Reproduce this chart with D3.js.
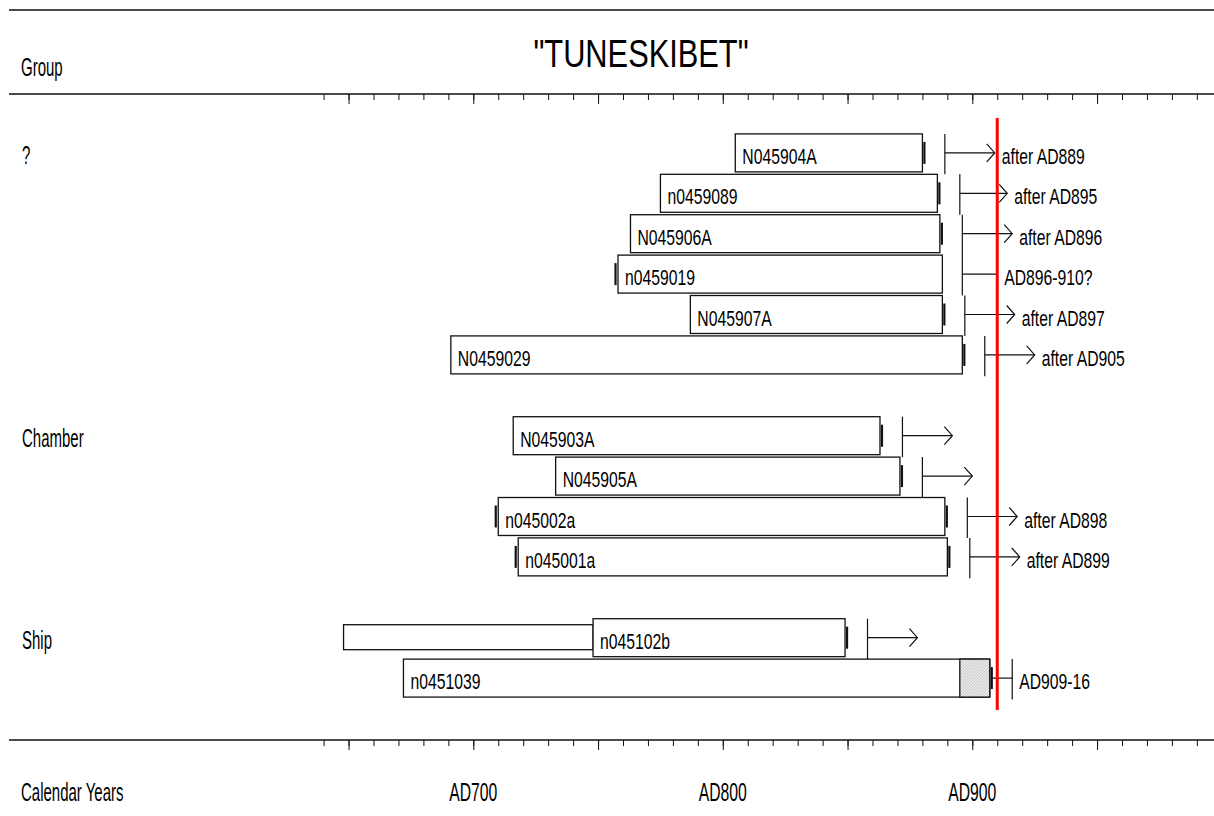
<!DOCTYPE html>
<html>
<head>
<meta charset="utf-8">
<script src="https://cdn.jsdelivr.net/npm/d3@7"></script>
<style>
  html, body { margin: 0; padding: 0; background: #fff; }
  svg { display: block; font-family: "Liberation Sans", Arial, sans-serif; }
</style>
</head>
<body>
<svg width="1214" height="816"></svg>
<script>
// Dendro dates, Tuneskibet
const title = "\"TUNESKIBET\"";
const groups = ["?", "Chamber", "Ship"];

const sampleIds   = ["N045904A", "n0459089", "N045906A", "n0459019", "N045907A", "N0459029",
                     "N045903A", "N045905A", "n045002a", "n045001a",
                     "n045102b", "n0451039"];
const sampleGroup = ["?", "?", "?", "?", "?", "?",
                     "Chamber", "Chamber", "Chamber", "Chamber",
                     "Ship", "Ship"];
const firstRing   = [805, 775, 763, 758, 787, 691, 716, 733, 710, 718, 748, 672];
const lastRing    = [880, 886, 887, 888, 888, 896, 863, 871, 889, 890, 849, 907];
const markStart   = [0, 0, 0, 1, 0, 0, 0, 0, 1, 1, 0, 0];
const markEnd     = [1, 1, 1, 0, 1, 1, 1, 1, 1, 1, 1, 1];
const sapwoodFrom = [null, null, null, null, null, null, null, null, null, null, null, 895];
const floatStart  = [null, null, null, null, null, null, null, null, null, null, 648, null];
const floatEnd    = [null, null, null, null, null, null, null, null, null, null, 748, null];
const fellingYear = [889, 895, 896, 896, 897, 905, 872, 880, 898, 899, 858, 916];
const lineEnd     = [909, 914, 916, 910, 917, 925, 892, 900, 918, 919, 878, 908];
const arrowHead   = [1, 1, 1, 0, 1, 1, 1, 1, 1, 1, 1, 0];
const notes       = ["after AD889", "after AD895", "after AD896", "AD896-910?", "after AD897", "after AD905",
                     "", "", "after AD898", "after AD899", "", "AD909-16"];

const markerYear = 910;
const minorTicks = d3.range(640, 991, 10);
const majorTicks = d3.range(650, 991, 50);
const labelYears = [700, 800, 900];

const svg = d3.select("svg");
const W = 1214;

const x = d3.scaleLinear().domain([700, 900]).range([473.3, 972.3]);

// rows: samples of each group, blank row between groups
const rowKeys = [];
groups.forEach((g, gi) => {
  sampleIds.forEach((s, i) => { if (sampleGroup[i] === g) rowKeys.push(s); });
  if (gi < groups.length - 1) rowKeys.push("gap" + gi);
});
const y = d3.scaleBand().domain(rowKeys).range([132.7, 698.3])
  .paddingInner(0.06).paddingOuter(0.03);
const bw = y.bandwidth();
const step = y.step();
const mid = id => y(id) + bw / 2;

const rows = sampleIds.map((id, i) => ({
  id, group: sampleGroup[i], start: firstRing[i], end: lastRing[i],
  mS: markStart[i], mE: markEnd[i], sap: sapwoodFrom[i],
  fS: floatStart[i], fE: floatEnd[i],
  tpq: fellingYear[i], to: lineEnd[i], head: arrowHead[i], note: notes[i]
}));

// squeezed text like the original narrow font
function label(parent, txt, px, py, size, sx, anchor) {
  parent.append("g")
    .attr("transform", `translate(${px},${py}) scale(${sx},1)`)
    .append("text")
    .attr("font-size", size)
    .attr("text-anchor", anchor || "start")
    .attr("fill", "#000")
    .text(txt);
}

const defs = svg.append("defs");
const pat = defs.append("pattern").attr("id", "sap")
  .attr("patternUnits", "userSpaceOnUse").attr("width", 3).attr("height", 3);
pat.append("rect").attr("width", 3).attr("height", 3).attr("fill", "#e8e8e8");
pat.append("path").attr("d", "M0,3L3,0").attr("stroke", "#b4b4b4").attr("stroke-width", 0.6);

// frame lines
[10, 94, 740].forEach(ly => {
  svg.append("line").attr("x1", 9).attr("x2", W).attr("y1", ly).attr("y2", ly)
    .attr("stroke", "#111").attr("stroke-width", 1.6);
});

function ticks(yPos) {
  const g = svg.append("g").attr("transform", `translate(0,${yPos})`);
  g.append("g").call(d3.axisBottom(x).tickValues(minorTicks).tickSize(6).tickFormat(""))
    .call(a => a.select(".domain").remove());
  g.append("g").call(d3.axisBottom(x).tickValues(majorTicks).tickSize(10).tickFormat(""))
    .call(a => a.select(".domain").remove());
  g.selectAll("line").attr("stroke", "#111");
}
ticks(94);
ticks(740);

label(svg, title, 641, 67, 39.5, 0.78, "middle");
label(svg, "Group", 21, 76, 25, 0.6);
label(svg, "Calendar Years", 21, 801, 25, 0.6);
labelYears.forEach(yr => label(svg, "AD" + yr, x(yr), 801, 25, 0.63, "middle"));

// group names at their first row
groups.forEach(g => {
  const first = rows.find(r => r.group === g);
  label(svg, g, 22, mid(first.id) + 11, 25, 0.6);
});

const gRows = svg.append("g");
rows.forEach(r => {
  const g = gRows.append("g");
  const top = y(r.id), c = mid(r.id);

  if (r.fS != null) {
    g.append("rect").attr("x", x(r.fS)).attr("y", top + 6)
      .attr("width", x(r.fE) - x(r.fS)).attr("height", bw - 13)
      .attr("fill", "#fff").attr("stroke", "#111").attr("stroke-width", 1.3);
  }

  g.append("rect").attr("x", x(r.start)).attr("y", top)
    .attr("width", x(r.end) - x(r.start)).attr("height", bw)
    .attr("fill", "#fff").attr("stroke", "#111").attr("stroke-width", 1.3);

  if (r.sap != null) {
    g.append("rect").attr("x", x(r.sap)).attr("y", top)
      .attr("width", x(r.end) - x(r.sap)).attr("height", bw)
      .attr("fill", "url(#sap)").attr("stroke", "#111").attr("stroke-width", 1.3);
  }

  if (r.mS) {
    g.append("line").attr("x1", x(r.start) - 2.5).attr("x2", x(r.start) - 2.5)
      .attr("y1", c - 11).attr("y2", c + 11).attr("stroke", "#111").attr("stroke-width", 2.2);
  }
  if (r.mE) {
    g.append("line").attr("x1", x(r.end) + 2).attr("x2", x(r.end) + 2)
      .attr("y1", c - 11).attr("y2", c + 11).attr("stroke", "#111").attr("stroke-width", 2.2);
  }

  label(g, r.id, x(r.start) + 7, c + 11, 22.5, 0.7);

  // felling date: vertical bar, line / arrow
  const xt = x(r.tpq), xe = x(r.to);
  g.append("line").attr("x1", xt).attr("x2", xt).attr("y1", top).attr("y2", top + step)
    .attr("stroke", "#111").attr("stroke-width", 1.2);
  g.append("line").attr("x1", xt).attr("x2", xe).attr("y1", c).attr("y2", c)
    .attr("stroke", "#111").attr("stroke-width", 1.2);
  if (r.head) {
    g.append("path").attr("d", `M${xe - 8},${c - 9}L${xe},${c}L${xe - 8},${c + 9}`)
      .attr("fill", "none").attr("stroke", "#111").attr("stroke-width", 1.2);
  }
  if (r.note) {
    label(g, r.note, Math.max(xt, xe) + 7, c + 11, 22.5, 0.7);
  }
});

// reference year
svg.append("line").attr("x1", x(markerYear)).attr("x2", x(markerYear))
  .attr("y1", 118).attr("y2", 710)
  .attr("stroke", "#ff0000").attr("stroke-width", 3);
</script>
</body>
</html>
